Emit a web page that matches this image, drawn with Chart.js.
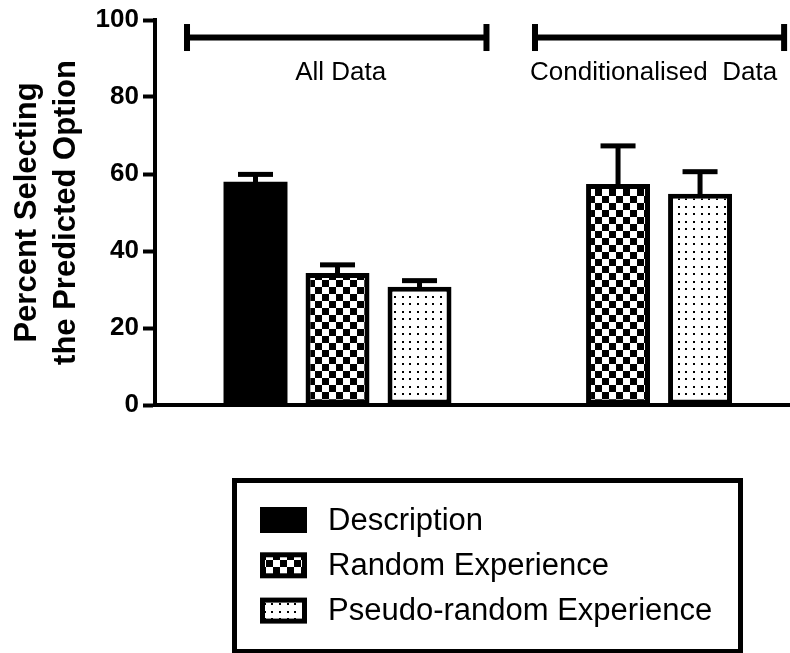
<!DOCTYPE html>
<html>
<head>
<meta charset="utf-8">
<script src="https://cdn.jsdelivr.net/npm/chart.js@4"></script>
<style>
html, body { margin: 0; padding: 0; background: #fff; }
#wrap { width: 790px; height: 653px; }
</style>
</head>
<body>
<div id="wrap"><canvas id="chart" width="790" height="653"></canvas></div>
<script>
// Groups along the x axis
const groups = ['All Data', 'Conditionalised  Data'];
// Series names
const seriesNames = ['Description', 'Random Experience', 'Pseudo-random Experience'];
// Mean percent selecting the predicted option, per group
const description = [58.0, null];
const randomExperience = [34.3, 57.4];
const pseudoRandomExperience = [30.7, 54.9];
// Standard errors (drawn as upper error bars)
const descriptionSem = [1.9, null];
const randomExperienceSem = [2.1, 9.9];
const pseudoRandomExperienceSem = [1.6, 5.7];
// Y axis ticks and title
const yTickValues = [0, 20, 40, 60, 80, 100];
const yTitle = ['Percent Selecting', 'the Predicted Option'];

const FONT = '"Liberation Sans", Arial, Helvetica, sans-serif';
Chart.defaults.font.family = FONT;
Chart.defaults.color = '#000';

const ctx = document.getElementById('chart').getContext('2d');

function checkerPattern() {
  const c = document.createElement('canvas');
  c.width = 14; c.height = 14;
  const g = c.getContext('2d');
  g.fillStyle = '#fff'; g.fillRect(0, 0, 14, 14);
  g.fillStyle = '#000'; g.fillRect(0, 0, 7, 7); g.fillRect(7, 7, 7, 7);
  return ctx.createPattern(c, 'repeat');
}

function dotPattern() {
  const c = document.createElement('canvas');
  c.width = 23; c.height = 15;
  const g = c.getContext('2d');
  g.fillStyle = '#fff'; g.fillRect(0, 0, 23, 15);
  g.fillStyle = '#000';
  [3, 11, 18].forEach(x => [3, 11].forEach(y => g.fillRect(x, y, 2, 2)));
  return ctx.createPattern(c, 'repeat');
}

const toPoints = vals => vals.map((v, i) => ({ x: i, y: v }));

// Upper error bars: stem plus cap
const errorBars = {
  id: 'errorBars',
  afterDatasetsDraw(chart, args, o) {
    const { ctx, scales: { y } } = chart;
    ctx.save();
    ctx.fillStyle = '#000';
    chart.data.datasets.forEach((ds, d) => {
      const meta = chart.getDatasetMeta(d);
      ds.data.forEach((pt, i) => {
        const err = ds.errors[i];
        if (pt.y == null || err == null) return;
        const bx = meta.data[i].x;
        const yTop = y.getPixelForValue(pt.y);
        const yCap = y.getPixelForValue(pt.y + err);
        ctx.fillRect(bx - o.stem / 2, yCap, o.stem, yTop - yCap + 2);
        ctx.fillRect(bx - o.capWidth / 2, yCap - o.capThickness / 2, o.capWidth, o.capThickness);
      });
    });
    ctx.restore();
  }
};

// Brackets with group names above the bars
const groupBrackets = {
  id: 'groupBrackets',
  afterDraw(chart, args, o) {
    const { ctx, scales: { x, y } } = chart;
    ctx.save();
    ctx.fillStyle = '#000';
    const yl = y.getPixelForValue(o.level);
    o.spans.forEach((s, i) => {
      const x0 = x.getPixelForValue(s.from);
      const x1 = x.getPixelForValue(s.to);
      ctx.fillRect(x0, yl - o.thickness / 2, x1 - x0, o.thickness);
      ctx.fillRect(x0 - 3, yl - o.endHeight / 2, 6, o.endHeight);
      ctx.fillRect(x1 - 3, yl - o.endHeight / 2, 6, o.endHeight);
      ctx.font = `${o.fontSize}px ${FONT}`;
      ctx.textAlign = 'center';
      ctx.textBaseline = 'middle';
      ctx.fillText(groups[i], (x0 + x1) / 2 + s.labelShift, yl + o.labelOffset);
    });
    ctx.restore();
  }
};

// Framed legend under the plot
const boxedLegend = {
  id: 'boxedLegend',
  afterDraw(chart, args, o) {
    const ctx = chart.ctx;
    ctx.save();
    const h = o.borderWidth / 2;
    ctx.lineWidth = o.borderWidth;
    ctx.strokeStyle = '#000';
    ctx.strokeRect(o.left + h, o.top + h, o.width - o.borderWidth, o.height - o.borderWidth);
    chart.data.datasets.forEach((ds, i) => {
      const cy = o.firstRow + i * o.rowGap;
      const sy = cy - o.swatchH / 2;
      ctx.fillStyle = '#000';
      ctx.fillRect(o.swatchX, sy, o.swatchW, o.swatchH);
      ctx.fillStyle = ds.backgroundColor;
      ctx.fillRect(o.swatchX + 5, sy + 5, o.swatchW - 10, o.swatchH - 10);
      ctx.fillStyle = '#000';
      ctx.font = `${o.fontSize}px ${FONT}`;
      ctx.textAlign = 'left';
      ctx.textBaseline = 'middle';
      ctx.fillText(ds.label, o.textX, cy + 1);
    });
    ctx.restore();
  }
};

const seriesValues = [description, randomExperience, pseudoRandomExperience];
const seriesErrors = [descriptionSem, randomExperienceSem, pseudoRandomExperienceSem];
const seriesFills = ['#000', checkerPattern(), dotPattern()];
const seriesBorders = [0, 5, 5];

new Chart(ctx, {
  type: 'bar',
  data: {
    datasets: seriesNames.map((name, d) => ({
      label: name,
      data: toPoints(seriesValues[d]),
      errors: seriesErrors[d],
      backgroundColor: seriesFills[d],
      borderColor: '#000',
      borderWidth: seriesBorders[d],
      borderSkipped: false,
      barPercentage: 0.78,
      categoryPercentage: 0.877
    }))
  },
  plugins: [errorBars, groupBrackets, boxedLegend],
  options: {
    responsive: false,
    animation: false,
    devicePixelRatio: 1,
    layout: { padding: { top: 20, right: 0, bottom: 248, left: 0 } },
    plugins: {
      legend: { display: false },
      tooltip: { enabled: false },
      errorBars: { stem: 5, capWidth: 35, capThickness: 5 },
      groupBrackets: {
        level: 95.45,
        thickness: 6,
        endHeight: 27,
        fontSize: 26,
        labelOffset: 35,
        spans: [
          { from: -0.5365, to: 0.531, labelShift: 4 },
          { from: 0.704, to: 1.592, labelShift: -6 }
        ]
      },
      boxedLegend: {
        left: 232, top: 478, width: 511, height: 176, borderWidth: 5,
        swatchX: 260, swatchW: 47, swatchH: 26,
        firstRow: 520, rowGap: 45.3, textX: 328, fontSize: 31
      }
    },
    scales: {
      x: {
        type: 'linear',
        min: -0.6506,
        max: 1.613,
        offset: false,
        ticks: { display: false },
        grid: { display: false },
        border: { display: true, width: 4, color: '#000' },
        afterBuildTicks: s => { s.ticks = groups.map((g, i) => ({ value: i })); },
        afterFit: s => { s.height = 0; }
      },
      y: {
        min: 0,
        max: 100,
        afterBuildTicks: s => { s.ticks = yTickValues.map(v => ({ value: v })); },
        afterFit: s => { s.width = 155; },
        ticks: { padding: 4, font: { size: 26, weight: 'bold' }, color: '#000' },
        grid: {
          display: true, drawOnChartArea: false, drawTicks: true,
          tickLength: 12, tickWidth: 4, tickColor: '#000'
        },
        border: { display: true, width: 4, color: '#000' },
        title: {
          display: true,
          text: yTitle,
          color: '#000',
          font: { size: 31, weight: 'bold', lineHeight: 1.25 },
          padding: { top: 8, bottom: 0 }
        }
      }
    }
  }
});
</script>
</body>
</html>
